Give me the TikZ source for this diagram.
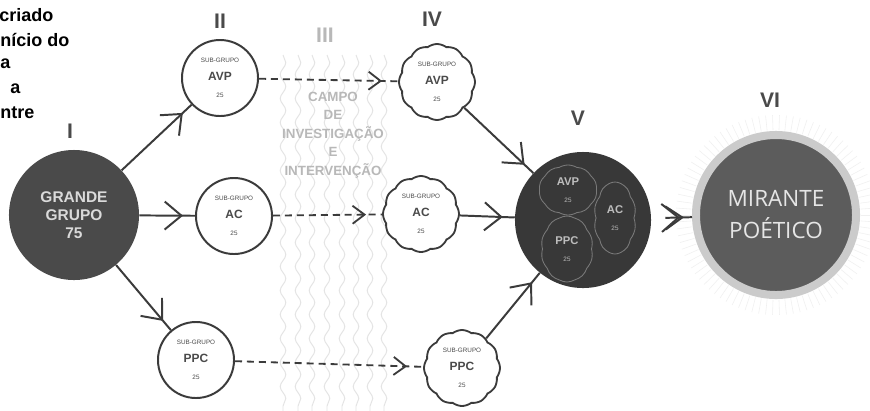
\documentclass[tikz,border=0pt]{standalone}
\usepackage{fontspec}
\setmainfont{Liberation Sans}
\newfontfamily\mirantefont{Open Sans}
\usepackage{tikz}
\usetikzlibrary{arrows.meta,shapes.symbols,decorations.markings,
                decorations.pathmorphing}
\definecolor{ink}{HTML}{3B3B3B}
\definecolor{label}{HTML}{4A4A4A}
\definecolor{discI}{HTML}{4A4A4A}
\definecolor{discV}{HTML}{383838}
\definecolor{discVI}{HTML}{5C5C5C}
\definecolor{ring}{HTML}{CBCBCB}
\definecolor{pale}{HTML}{DADADA}
\definecolor{fieldtxt}{HTML}{B8B8B8}
\definecolor{wave}{HTML}{E4E4E4}
\definecolor{blobline}{HTML}{7A7A7A}
\definecolor{blobtext}{HTML}{BDBDBD}
\newcommand{\subtxt}[2]{{\fontsize{4.5}{5}\selectfont SUB-GRUPO}\\[1pt]
  {\fontsize{8.5}{9}\selectfont\bfseries #1}\\[0pt]{\fontsize{4.5}{5}\selectfont #2}}
\tikzset{
  bigdisc/.style={circle,inner sep=0pt,align=center,text=pale},
  subcircle/.style={circle,draw=ink,line width=1.4pt,fill=white,
                    minimum size=1.9cm,inner sep=0pt,align=center,text=label},
  subcloud/.style={cloud,cloud puffs=12,cloud puff arc=75,aspect=1,
                   draw=ink,line width=1.3pt,fill=white,minimum width=1.9cm,
                   minimum height=1.9cm,inner sep=0pt,align=center,text=label},
  blob/.style={cloud,cloud puffs=10,cloud puff arc=60,draw=blobline,
               line width=0.6pt,inner sep=0pt,align=center,text=blobtext},
  stagelbl/.style={font=\bfseries\fontsize{15}{15}\selectfont,text=label},
  link/.style={draw=ink,line width=1.4pt,postaction={decorate},
    decoration={markings,mark=at position -3mm with
      {\arrow{Straight Barb[length=4.2mm,width=7mm]}}}},
  dlink/.style={draw=ink,line width=1.3pt,dash pattern=on 5pt off 3.5pt,
    postaction={decorate},
    decoration={markings,mark=at position -4mm with
      {\arrow{Straight Barb[length=3mm,width=4.5mm]}}}},
  halo/.style={draw=black!6,line width=0.4pt},
}

\begin{document}
\begin{tikzpicture}[x=0.025cm,y=-0.025cm]
  \fill[white](0,0)rectangle(870,410);
  \useasboundingbox(0,0)rectangle(870,410);
  % Caption remnant
  \begin{scope}[every node/.style={anchor=west,inner sep=0pt,
      font=\bfseries\fontsize{12.8}{14}\selectfont}]
    \node(cap1)at(-1,15){criado};
    \node(cap2)at(0,39.5){nício do};
    \node(cap3)at(0,64){a};
    \node(cap4)at(10,88.5){a};
    \node(cap5)at(0,113){ntre};
  \end{scope}
  % Field III
  \foreach \x in {283,298,312,327,342,356,370,384}{
    \draw[wave,line width=0.7pt,decorate,
          decoration={snake,amplitude=0.7mm,segment length=6mm}]
      (\x,55)--(\x,412);}
  \node[stagelbl,text=fieldtxt](sIII)at(325,35){III};
  \node[align=center,text=fieldtxt,
        font=\bfseries\fontsize{9.5}{13.2}\selectfont](field)at(333,135)
    {CAMPO\\DE\\INVESTIGAÇÃO\\E\\INTERVENÇÃO};
  % Stage I
  \node[stagelbl](sI)at(70,131){I};
  \node[bigdisc,fill=discI,minimum size=3.25cm,
        font=\bfseries\fontsize{11}{12.8}\selectfont](grande)at(74,215)
    {GRANDE\\GRUPO\\75};
  % Stage II
  \node[stagelbl](sII)at(220,21){II};
  \node[subcircle](avp)at(220,78){\subtxt{AVP}{25}};
  \node[subcircle](ac)at(234,216){\subtxt{AC}{25}};
  \node[subcircle](ppc)at(196,360){\subtxt{PPC}{25}};
  % Stage IV
  \node[stagelbl](sIV)at(432,19){IV};
  \node[subcloud](cavp)at(437,82){\subtxt{AVP}{25}};
  \node[subcloud](cac)at(421,214){\subtxt{AC}{25}};
  \node[subcloud](cppc)at(462,368){\subtxt{PPC}{25}};
  % Stage V
  \node[stagelbl](sV)at(578,118){V};
  \node[bigdisc,fill=discV,minimum size=3.4cm](joint)at(583,220){};
  \node[blob,minimum width=1.45cm,minimum height=1.25cm](bavp)at(568,190)
    {{\bfseries\fontsize{8}{9}\selectfont AVP}\\{\fontsize{4.5}{5}\selectfont 25}};
  \node[blob,minimum width=1.05cm,minimum height=1.8cm](bac)at(615,218)
    {{\bfseries\fontsize{8}{9}\selectfont AC}\\{\fontsize{4.5}{5}\selectfont 25}};
  \node[blob,minimum width=1.3cm,minimum height=1.65cm](bppc)at(567,249)
    {{\bfseries\fontsize{8}{9}\selectfont PPC}\\{\fontsize{4.5}{5}\selectfont 25}};
  % Stage VI
  \node[stagelbl](sVI)at(770,100){VI};
  \foreach \a in {0,4,...,356}{
    \draw[halo](776,215)++(\a:2.12cm)--++(\a:0.38cm);}
  \node[bigdisc,fill=discVI,draw=ring,line width=5.7pt,minimum size=4cm,
        text=white!90!black,font=\mirantefont\fontsize{16}{22.8}\selectfont]
    (mirante)at(776,215){MIRANTE\\POÉTICO};
  % Connectors
  \draw[link](grande)--(avp);
  \draw[link](grande)--(ac);
  \draw[link](grande)--(ppc);
  \draw[dlink](avp)--(cavp);
  \draw[dlink](ac)--(cac);
  \draw[dlink](ppc)--(cppc);
  \draw[link](cavp)--(joint);
  \draw[link](cac)--(joint);
  \draw[link](cppc)--(joint);
  \draw[link,shorten <=3.5mm,decoration={markings,mark=at position -2mm with
      {\arrow{Straight Barb[length=4.2mm,width=5.8mm]}}}](joint)--(mirante);
\end{tikzpicture}
\end{document}
